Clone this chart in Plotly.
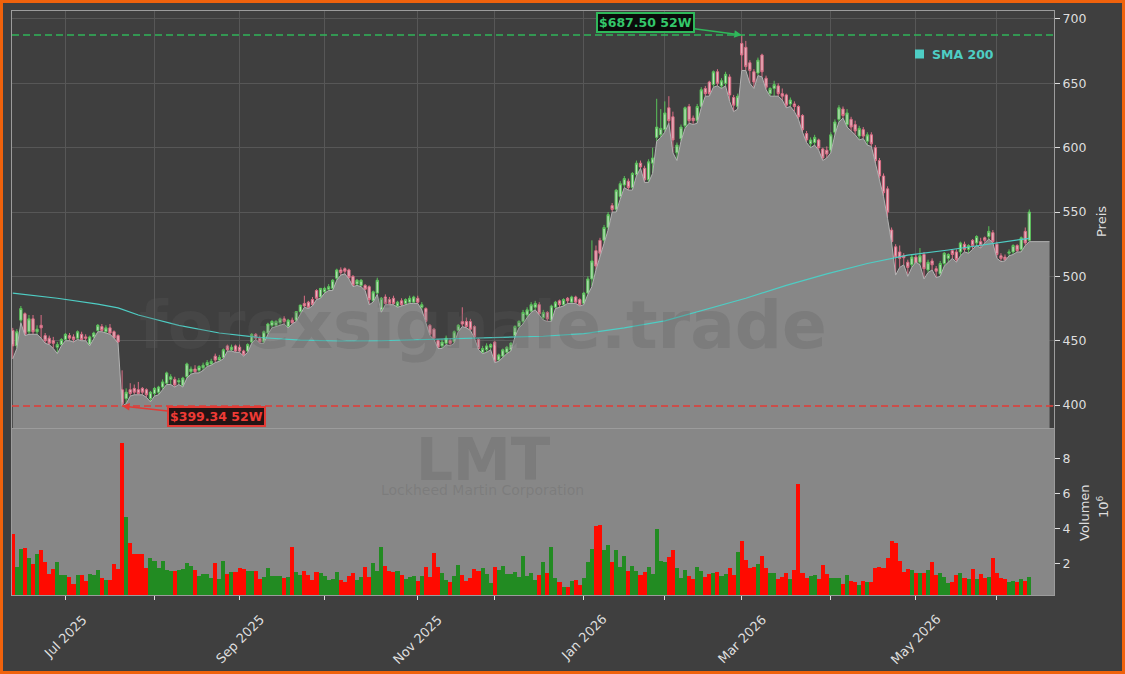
import plotly.graph_objects as go
import pandas as pd

# ---------------- data ----------------
holidays = ['2025-06-19', '2025-07-04', '2025-09-01', '2025-11-27', '2025-12-25',
            '2026-01-01', '2026-01-19', '2026-02-16', '2026-04-03', '2026-05-25']
dates = [d for d in pd.bdate_range('2025-06-11', '2026-06-11')
         if d.strftime('%Y-%m-%d') not in holidays]

open_ = [
    458, 446, 466, 471, 457, 467, 457, 462, 454, 452,
    450, 445, 447, 451, 454, 453, 452, 455, 453, 447,
    453, 458, 461, 457, 460, 457, 454, 412, 405, 412,
    413, 412, 413, 412, 405, 409, 410, 414, 417, 420,
    420, 418, 415, 422, 426, 428, 427, 429, 431, 432,
    438, 435, 437, 446, 443, 446, 445, 442, 442, 449,
    455, 452, 449, 456, 462, 462, 464, 467, 461, 466,
    466, 472.6, 479, 480, 482, 489, 484, 488, 490, 490.7,
    498.5, 505, 506, 505, 500, 494, 493, 493, 492, 481,
    487, 474, 484, 482, 483, 477, 481, 479, 480, 480,
    483, 476, 475, 462, 459, 450, 446, 448, 450, 449,
    458, 465, 465, 465, 461, 451, 441, 443, 445, 449,
    435, 438, 441, 443, 454, 461, 465, 470, 473, 476,
    478, 468, 472, 466, 476, 481, 478, 483, 480, 484,
    482, 479, 487, 498, 520, 528, 528, 538, 555, 552,
    562, 571, 574, 569, 579, 588, 584, 575, 588, 608,
    610, 614, 631, 624, 596, 607, 617, 632, 623, 621,
    632, 646, 651, 649, 659, 648, 650, 655, 639, 632,
    681, 678, 666, 659, 658, 672, 654, 642, 646, 648,
    642, 641, 634, 634, 632, 625, 611, 603, 604, 606,
    599, 598, 598, 612, 622, 630, 618, 622, 618, 609,
    614, 605, 610, 600, 590, 578, 568, 536, 523, 519,
    516, 511, 509, 515, 511, 517, 505, 512, 506, 502,
    510, 514, 520, 519, 519, 525, 521, 528, 526, 527,
    530, 531, 534, 525, 516, 515, 518, 519, 524, 521,
    535, 528,
]
high = [
    460, 459, 477, 472, 470, 470, 462, 470, 456, 454,
    453, 449, 452, 456, 456, 455, 458, 457, 455, 454,
    457, 463, 463, 462, 463, 458, 455, 427, 413, 417,
    416, 418, 414, 413, 411, 414, 415, 420, 426, 424,
    422, 421, 422, 433, 430, 431, 431, 433, 435, 436,
    440, 439, 444, 447, 447, 447, 447, 443, 448, 456,
    456, 454, 458, 464, 466, 466, 468, 469, 467, 468,
    473, 478, 485, 481, 484, 490, 491, 492, 494, 498,
    506, 507, 507, 506, 501, 498, 498, 494, 493, 489,
    499, 484, 486, 484, 485, 481, 483, 483, 485, 485,
    485, 480, 476, 463, 460, 451, 451, 454, 452, 458,
    463, 476, 468, 467, 462, 452, 446, 448, 448, 450,
    440, 444, 446, 449, 462, 466, 474, 476, 480, 481,
    480, 474, 473, 478, 481, 482, 483, 484, 485, 485,
    483, 488, 500, 528, 524, 530, 540, 550, 557, 568,
    574, 578, 576, 581, 590, 590, 586, 591, 600, 638,
    630, 636, 640, 628, 604, 618, 632, 634, 625, 634,
    647, 648, 652, 660, 661, 654, 659, 657, 641, 642,
    687.5, 683, 668, 661, 670, 673, 656, 647, 652, 650,
    646, 642, 639, 636, 633, 626, 613, 608, 610, 607,
    600, 601, 612, 622, 633, 632, 630, 624, 621, 617,
    616, 612, 612, 602, 592, 580, 570, 538, 525, 524,
    518, 513, 517, 517, 522, 519, 513, 514, 508, 512,
    519, 518, 521, 521, 527, 527, 525, 529, 532, 530,
    531, 539, 536, 527, 518, 517, 521, 525, 525, 531,
    538, 552,
]
low = [
    436, 444, 464, 454, 455, 455, 455, 452, 448, 447,
    444, 440, 446, 450, 450, 449, 451, 450, 450, 446,
    452, 457, 457, 456, 455, 452, 448, 399.34, 401, 407,
    408, 408, 408, 406, 402.5, 407, 408, 412, 416, 416,
    414, 416, 414, 421, 424, 425, 425, 427, 430, 431,
    433, 434, 436, 442, 442, 441, 441, 438, 441, 448,
    451, 448, 448, 455, 460, 461, 462, 463, 460, 463,
    465, 471, 476, 475, 477, 482, 483, 487, 489, 489,
    497, 501, 502, 498, 492, 493, 492, 489, 478, 480,
    486, 472, 478, 478, 478, 476, 477, 478, 479, 479,
    479, 474, 464, 454, 451, 444, 444, 447, 446, 448,
    457, 461, 460, 458, 452, 443, 440, 441, 443, 433,
    434, 437, 440, 442, 453, 460, 463, 468, 472, 474,
    470, 466, 465, 465, 475, 476, 477, 479, 479, 479,
    477, 478, 486, 492, 505, 515, 526, 536, 550, 550,
    560, 569, 567, 567, 578, 584, 573, 573, 580, 605,
    608, 612, 619, 596, 590, 605, 615, 619, 618, 619,
    631, 640, 640, 647, 648, 646, 648, 636, 628, 630,
    660, 660, 650, 646, 656, 655, 645, 640, 640, 640,
    637, 631, 632, 628, 622, 612, 604, 600, 602, 598,
    590, 592, 596, 610, 620, 623, 616, 613, 610, 606,
    607, 602, 601, 588, 576, 562, 545, 526, 501, 507,
    509, 500, 507, 511, 509, 498, 503, 505, 499, 500,
    508, 511, 514, 511, 516, 519, 518, 521, 524, 522,
    526, 529, 526, 514, 511.5, 512, 516, 517, 519, 519,
    524, 527,
]
close = [
    446, 457, 475, 455, 467, 457, 459, 460, 450, 448,
    448, 447, 451, 455, 452, 451, 457, 451, 452, 453,
    456, 462, 458, 460, 456, 452, 449, 401, 410, 409,
    410, 409, 410, 408, 410, 413, 414, 418, 425, 422,
    415.6, 419, 421, 432, 428, 426, 430, 431, 433, 434,
    435, 437, 443, 443, 445, 442, 442, 439, 447, 455,
    452, 449, 457, 463, 465, 465, 467, 465, 466, 464,
    472.6, 477.7, 477, 476, 478, 483, 490.7, 490.7, 492, 497,
    505, 503, 504, 499, 493, 497, 497, 490, 482, 488,
    497, 483, 479, 479, 479, 480, 478, 482, 483, 484,
    480, 478, 465, 455, 452, 445, 449, 452, 448, 457,
    462, 463, 461, 459, 453, 444, 444, 446, 447, 434,
    439, 443, 445, 448, 461, 465, 472, 474, 478, 479,
    471, 472, 467, 477, 480, 478, 482, 481, 484, 480,
    478, 487, 498, 512, 508, 518, 538, 548, 552, 567,
    572, 576, 569, 580, 588, 585, 575, 589, 592, 616,
    615, 627, 621, 606, 602, 616, 631, 621, 621, 632,
    645, 642, 642, 659, 650, 652, 657, 641, 633, 640,
    672, 663, 660, 651, 668, 659, 647, 646, 649, 642,
    640, 633, 637, 632, 624, 614, 606, 606, 608, 600,
    592, 595, 610, 620, 631, 625, 627, 616, 613, 615,
    609, 610, 603, 590, 578, 565, 550, 527, 515, 514,
    514.5, 507, 515, 510, 516, 506, 511, 509, 504, 510,
    518, 517, 517, 513, 526, 521, 524, 524, 531, 524,
    528, 535, 527, 517, 514, 513, 519, 524, 520, 530,
    526, 550,
]
volume_m = [
    3.68, 1.80, 2.82, 2.87, 2.28, 1.95, 2.53, 2.76, 2.05, 1.38,
    1.65, 2.05, 1.32, 1.32, 1.20, 0.80, 1.32, 1.32, 0.98, 1.36,
    1.32, 1.61, 1.15, 1.03, 1.03, 1.95, 1.69, 8.93, 4.64, 3.14,
    2.53, 2.53, 2.53, 1.72, 2.30, 2.13, 1.72, 2.13, 1.61, 1.57,
    1.57, 1.61, 1.65, 1.99, 1.84, 1.61, 1.26, 1.38, 1.38, 1.15,
    2.03, 1.11, 2.13, 1.38, 1.49, 1.49, 1.72, 1.69, 1.55, 1.55,
    1.55, 1.11, 1.20, 1.72, 1.26, 1.26, 1.26, 1.17, 1.20, 2.95,
    1.49, 1.30, 1.55, 1.32, 1.03, 1.49, 1.42, 1.26, 1.03, 1.07,
    1.49, 1.03, 0.92, 1.26, 1.42, 1.03, 1.20, 1.78, 1.20, 1.99,
    1.55, 2.93, 1.84, 1.57, 1.49, 1.55, 1.30, 1.11, 1.20, 1.26,
    0.98, 1.26, 1.80, 1.20, 2.59, 1.76, 1.42, 1.03, 0.92, 1.26,
    1.90, 1.32, 0.98, 1.17, 1.67, 1.55, 1.72, 1.38, 0.86, 1.78,
    1.61, 1.84, 1.38, 1.38, 1.49, 1.20, 2.41, 1.26, 1.46, 1.05,
    1.34, 2.04, 1.46, 2.92, 1.17, 0.94, 0.65, 0.65, 1.00, 1.05,
    0.77, 1.17, 2.04, 2.84, 4.11, 4.17, 2.73, 3.02, 2.09, 2.73,
    1.80, 2.44, 1.57, 1.86, 1.57, 1.34, 1.52, 1.80, 1.40, 3.99,
    2.15, 2.04, 2.38, 2.73, 1.75, 1.17, 1.63, 1.29, 1.11, 1.80,
    1.57, 1.23, 1.40, 1.46, 1.52, 1.29, 1.40, 1.75, 1.34, 2.67,
    3.30, 2.21, 1.71, 1.80, 1.98, 2.44, 1.75, 1.46, 1.46, 1.11,
    1.23, 1.46, 1.11, 1.63, 6.54, 1.46, 1.17, 1.29, 1.34, 1.11,
    1.92, 1.40, 1.17, 1.17, 1.17, 0.82, 1.34, 1.00, 0.94, 0.77,
    1.00, 0.94, 0.94, 1.75, 1.80, 1.71, 2.32, 3.25, 3.13, 2.15,
    1.52, 1.69, 1.63, 1.46, 1.46, 1.46, 1.63, 2.09, 1.34, 1.46,
    1.23, 0.88, 0.94, 1.34, 1.46, 1.17, 1.11, 1.69, 1.11, 1.40,
    1.17, 1.23, 2.32, 1.46, 1.17, 1.11, 0.94, 1.00, 0.94, 1.11,
    1.00, 1.23,
]
# SMA 200 read at sample trading days (index into dates)
sma_idx = [0, 11, 21, 26, 31, 41, 51, 61, 71, 81, 91, 101, 111, 121, 131,
           141, 151, 161, 171, 181, 191, 201, 211, 221, 231, 241, 251]
sma_200 = [487, 483, 478.5, 475.5, 470, 462, 456, 452.5, 450.5, 449.8, 450, 451,
           451.5, 452.5, 453.5, 455.5, 460, 465.5, 474, 483, 493, 502, 510,
           516.5, 520.5, 525, 529.6]
high_52w = 687.50
low_52w = 399.34
tick_labels = ['Jul 2025', '', 'Sep 2025', '', 'Nov 2025', '', 'Jan 2026', '',
               'Mar 2026', '', 'May 2026', '']

n = len(dates)
assert all(len(a) == n for a in (open_, high, low, close, volume_m))

pos = list(range(n))
date_txt = [d.strftime('%Y-%m-%d') for d in dates]
tick_pos = [i for i in range(1, n) if dates[i].month != dates[i - 1].month]

# area under lows, held flat a few sessions past the last bar
pad = 5
area_x = pos + [n - 1 + k for k in range(1, pad + 1)]
area_y = low + [low[-1]] * pad

vol_colors = ['#228b22' if c >= o else '#ff0a00' for o, c in zip(open_, close)]
hi_i = high.index(max(high))
lo_i = low.index(min(low))

# ---------------- figure ----------------
W, H = 1125, 674
ML, MR, MT, MB = 12, 71, 11, 79
PW, PH = W - ML - MR, H - MT - MB


def px(xp):
    return (xp - ML) / PW


def py(yp):
    return (H - MB - yp) / PH


BG = '#3f3f3f'
GRAY = '#878787'
SPINE = '#9c9c9c'
TXT = '#dedede'
FONT = 'DejaVu Sans'

fig = go.Figure()
fig.add_trace(go.Scatter(x=area_x, y=area_y, mode='lines', fill='tozeroy',
                         fillcolor=GRAY, line=dict(color='#b2b2b2', width=1),
                         hoverinfo='skip', showlegend=False, xaxis='x', yaxis='y'))
fig.add_trace(go.Scatter(x=sma_idx, y=sma_200, mode='lines', name='SMA 200',
                         line=dict(color='#4ecdc4', width=1.2),
                         showlegend=False, xaxis='x', yaxis='y'))
fig.add_trace(go.Candlestick(x=pos, open=open_, high=high, low=low, close=close,
                             text=date_txt,
                             increasing=dict(line=dict(color='#5ccc5c', width=1), fillcolor='#c6efc6'),
                             decreasing=dict(line=dict(color='#e8728c', width=1), fillcolor='#f5bfcb'),
                             whiskerwidth=0, opacity=0.92, showlegend=False,
                             xaxis='x', yaxis='y'))
fig.add_trace(go.Bar(x=pos, y=volume_m, marker=dict(color=vol_colors, line=dict(width=0)),
                     showlegend=False, xaxis='x2', yaxis='y2', hoverinfo='skip'))

shapes = [
    # volume pane background
    dict(type='rect', xref='x2 domain', yref='y2 domain', x0=0, x1=1, y0=0, y1=1,
         fillcolor=GRAY, line=dict(width=0), layer='below'),
    # 52W lines
    dict(type='line', xref='x domain', yref='y', x0=0, x1=1, y0=high_52w, y1=high_52w,
         line=dict(color='#30b55a', width=1.5, dash='7px,4px'), layer='above'),
    dict(type='line', xref='x domain', yref='y', x0=0, x1=1, y0=low_52w, y1=low_52w,
         line=dict(color='#e23b36', width=1.5, dash='7px,4px'), layer='above'),
    # legend square
    dict(type='rect', xref='paper', yref='paper', x0=px(915), x1=px(924), y0=py(58.5), y1=py(49.5),
         fillcolor='#4ecdc4', line=dict(width=0)),
    # outer orange frame
    dict(type='rect', xref='paper', yref='paper', x0=px(1.5), x1=px(W - 1.5), y0=py(H - 1.5), y1=py(1.5),
         line=dict(color='#f0620c', width=3), fillcolor='rgba(0,0,0,0)'),
]

wm = 'rgba(93,93,93,0.25)'


def note(text, xp, yp, size, color, angle=0, xa='center', ya='middle'):
    return dict(text=text, xref='paper', yref='paper', x=px(xp), y=py(yp),
                xanchor=xa, yanchor=ya, textangle=angle, showarrow=False,
                font=dict(family=FONT, size=size, color=color))


annotations = [
    note('<b>forexsignale.trade</b>', 483, 325, 66, wm),
    note('<b>LMT</b>', 483, 460, 58, wm),
    note('Lockheed Martin Corporation', 482, 490, 14, wm),
    note('<b>SMA 200</b>', 930, 54, 12.5, '#4ecdc4', xa='left'),
    note('Preis', 1102, 222, 13, TXT, angle=-90),
    note('Volumen', 1084, 513, 13, TXT, angle=-90),
    note('10<sup>6</sup>', 1103, 507, 13, TXT, angle=-90),
    dict(text=f'<b>${high_52w:.2f} 52W</b>', x=hi_i, y=high_52w, xref='x', yref='y',
         showarrow=True, ax=-96, ay=-13, arrowhead=2, arrowsize=1, arrowwidth=1.5,
         arrowcolor='#2fb85a', bgcolor='rgba(5,5,5,0.9)', bordercolor='#2fb85a',
         borderwidth=2, borderpad=1, font=dict(family=FONT, size=12.5, color='#34c76a')),
    dict(text=f'<b>${low_52w:.2f} 52W</b>', x=lo_i, y=low_52w, xref='x', yref='y',
         showarrow=True, ax=94, ay=10.5, arrowhead=2, arrowsize=1, arrowwidth=1.5,
         arrowcolor='#e23b36', bgcolor='rgba(25,8,8,0.9)', bordercolor='#e23b36',
         borderwidth=2, borderpad=1, font=dict(family=FONT, size=12.5, color='#ee3b36')),
]
for tp, tl in zip(tick_pos, tick_labels):
    if tl:
        annotations.append(dict(text=tl, x=tp, xref='x2', y=0, yref='paper', textangle=-45,
                                xanchor='center', yanchor='top', yshift=-14, showarrow=False,
                                font=dict(family=FONT, size=13, color=TXT)))

xr = [-0.19, 257.1]
price_dom = [py(428), 1.0]
vol_dom = [0.0, py(429)]

fig.update_layout(
    width=W, height=H, margin=dict(l=ML, r=MR, t=MT, b=MB, pad=0),
    paper_bgcolor=BG, plot_bgcolor=BG, bargap=0, boxgap=0.2, showlegend=False,
    font=dict(family=FONT, color=TXT, size=12.5),
    shapes=shapes, annotations=annotations, hovermode=False,
    xaxis=dict(domain=[0, 1], range=xr, anchor='y', tickvals=tick_pos, showticklabels=False,
               ticks='', showgrid=True, gridcolor='#575757', gridwidth=1, zeroline=False,
               showline=True, mirror=True, linecolor=SPINE, linewidth=1,
               rangeslider=dict(visible=False)),
    xaxis2=dict(domain=[0, 1], range=xr, matches='x', anchor='y2', tickvals=tick_pos,
                showticklabels=False, ticks='outside', ticklen=4, tickcolor=TXT, tickwidth=1,
                showgrid=False, zeroline=False, showline=True, mirror=True,
                linecolor=SPINE, linewidth=1),
    yaxis=dict(domain=price_dom, range=[382.2, 706.2], side='right', anchor='x',
               tickvals=[400, 450, 500, 550, 600, 650, 700], ticks='outside', ticklen=5,
               tickcolor=TXT, tickfont=dict(size=12.5, color=TXT), showgrid=True,
               gridcolor='#575757', zeroline=False, showline=True, mirror=True,
               linecolor=SPINE, linewidth=1),
    yaxis2=dict(domain=vol_dom, range=[0.17, 9.71], side='right', anchor='x2',
                tickvals=[2, 4, 6, 8], ticks='outside', ticklen=5, tickcolor=TXT,
                tickfont=dict(size=12.5, color=TXT), showgrid=False, zeroline=False,
                showline=True, mirror=True, linecolor=SPINE, linewidth=1),
)

fig.write_html('out.html')
